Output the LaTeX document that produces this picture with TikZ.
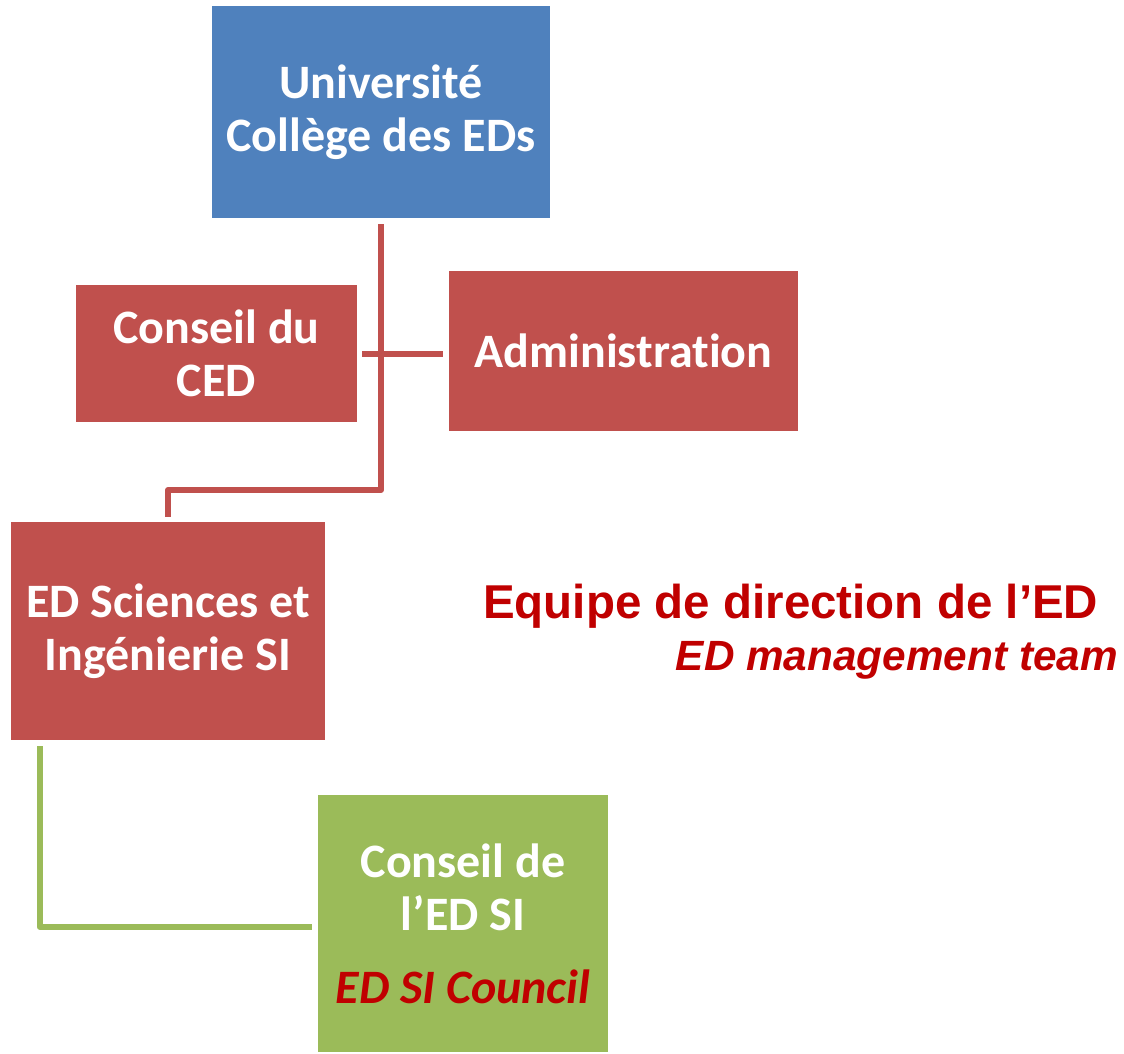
\documentclass[tikz,border=0pt]{standalone}
\usepackage{fontspec}
\setmainfont[Ligatures=NoCommon]{Carlito}
\newfontfamily\arialf{Liberation Sans}
\definecolor{boxblue}{HTML}{4F81BD}
\definecolor{boxred}{HTML}{C0504D}
\definecolor{boxgreen}{HTML}{9BBB59}
\definecolor{txtred}{HTML}{C00000}
\tikzset{
  boxfont/.style={font=\fontsize{48}{53}\selectfont\bfseries},
  orgbox/.style={inner sep=0pt, align=center, text=white, boxfont},
  boxline/.style={inner sep=0pt, anchor=base, boxfont},
  redconn/.style={draw=boxred, line width=6pt, line join=round},
  greenconn/.style={draw=boxgreen, line width=6pt, line join=round},
}
\begin{document}
\begin{tikzpicture}[x=1pt,y=-1pt]
\useasboundingbox (0,0) rectangle (1124,1054);
% boxes
\node[orgbox, fill=boxblue, minimum width=338pt, minimum height=212pt] (top) at (381,112) {Université\\Collège des EDs};
\node[orgbox, fill=boxred, minimum width=281pt, minimum height=137pt] (ced) at (216.5,353.5) {Conseil du\\CED};
\node[orgbox, fill=boxred, minimum width=349pt, minimum height=160pt] (admin) at (623.5,351) {Administration};
\node[orgbox, fill=boxred, minimum width=314pt, minimum height=218pt] (eds) at (168,631) {ED Sciences et\\Ingénierie SI};
\node[orgbox, fill=boxgreen, minimum width=290pt, minimum height=257pt] (green) at (463,923.5) {};
\node[boxline, text=white] (g1) at (463,877) {Conseil de};
\node[boxline, text=white] (g2) at (463,930) {l’ED SI};
\node[boxline, text=txtred, font=\fontsize{48}{53}\selectfont\bfseries\itshape] (g3) at (463,1003) {ED SI Council};
% connectors
\coordinate (j1) at (381,490);
\draw[redconn] ([yshift=-6pt]top.south) -- (j1) -| ([yshift=5pt]eds.north);
\draw[redconn] ([xshift=5pt]ced.east) -- ([xshift=-6pt]admin.west |- ced.east);
\draw[greenconn] ([xshift=29pt,yshift=-6pt]eds.south west) |- ([xshift=-6pt,yshift=-3.5pt]green.west);
% title
\node[anchor=base west, inner sep=0pt, text=txtred, font=\arialf\bfseries\fontsize{47.5}{50}\selectfont] (title) at (483,618) {Equipe de direction de l’ED};
\node[anchor=base east, inner sep=0pt, text=txtred, font=\arialf\bfseries\itshape\fontsize{42.3}{45}\selectfont] (subtitle) at (1118,670) {ED management team};
\end{tikzpicture}
\end{document}
